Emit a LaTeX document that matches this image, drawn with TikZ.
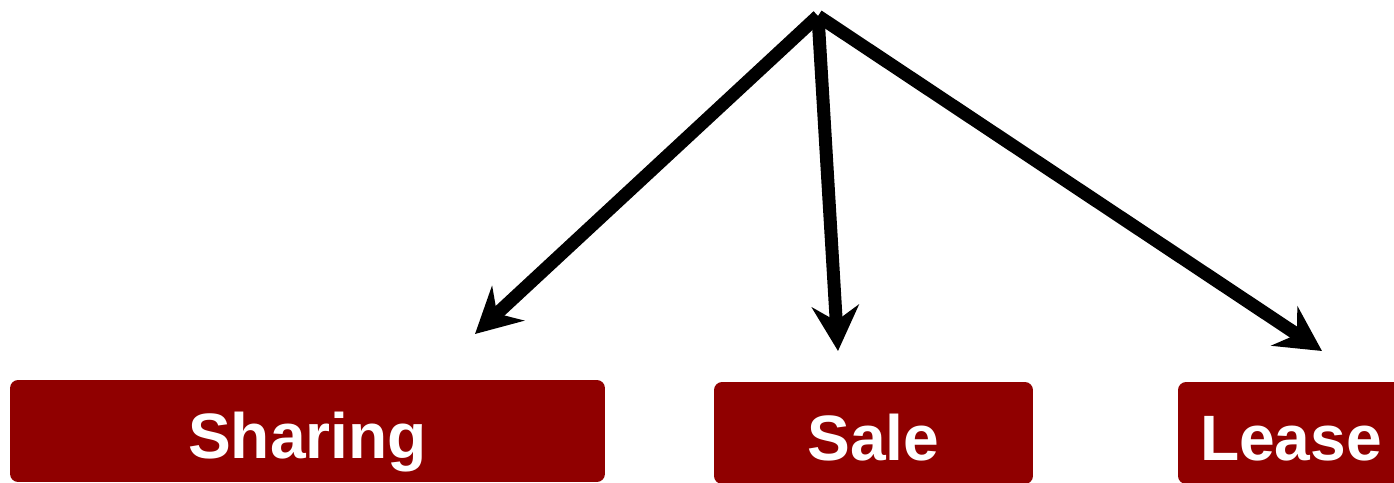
\documentclass[tikz,border=0pt]{standalone}
\usepackage{fontspec}
\setmainfont{Liberation Sans}
\usetikzlibrary{arrows.meta}
\definecolor{boxred}{HTML}{900000}

\begin{document}
\begin{tikzpicture}[x=0.02cm, y=-0.02cm,
	choice/.style={fill=boxred, rounded corners=0.16cm, text=white, minimum height=2.04cm,
		text height=1.1cm, text depth=0pt, inner sep=0pt,
		font=\fontsize{36.5}{40}\selectfont\bfseries},
	branch/.style={line width=0.26cm, -{Stealth[length=0.9cm, width=0.94cm, inset=0.3cm]}}]
			\useasboundingbox (0,0) rectangle (1394,483);
			\clip (0,0) rectangle (1394,483);
			\coordinate (top) at (818,16);
			\coordinate (t1) at (475,334);
			\coordinate (t2) at (838,351);
			\coordinate (t3) at (1322,351);
			\node[choice, minimum width=11.9cm] (sharing) at (307.5,431) {Sharing};
			\node[choice, minimum width=6.38cm] (sale) at (873.5,433) {Sale};
			\node[choice, minimum width=4.52cm] (lease) at (1291,433) {Lease};
			\draw[branch] (top)--(t1);
			\draw[branch] (top)--(t2);
			\draw[branch] (top)--(t3);
		\end{tikzpicture}
\end{document}
